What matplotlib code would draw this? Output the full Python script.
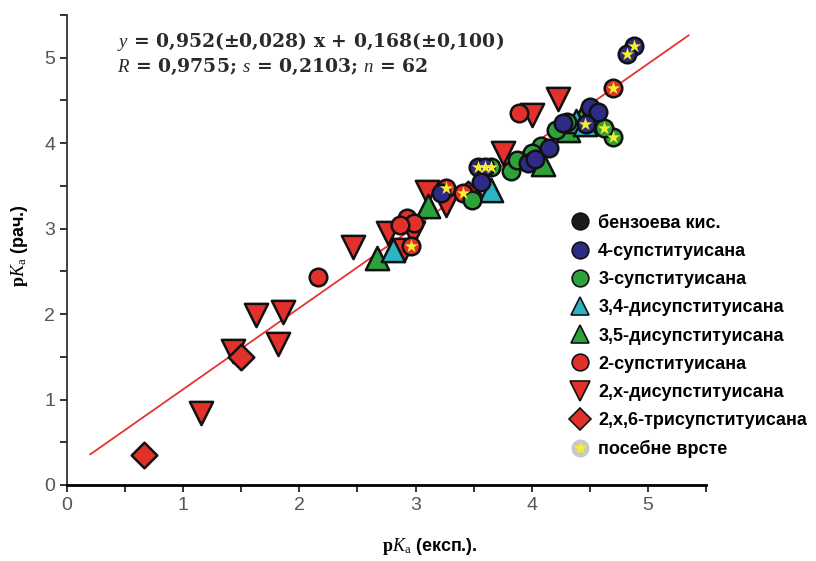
import numpy as np
import matplotlib
matplotlib.use("Agg")
import matplotlib.pyplot as plt
from matplotlib.lines import Line2D

plt.rcParams['mathtext.fontset'] = 'custom'
plt.rcParams['mathtext.rm'] = 'Liberation Serif'
plt.rcParams['mathtext.it'] = 'Liberation Serif:italic'
plt.rcParams['mathtext.bf'] = 'Liberation Serif:bold'

# podaci po grupama (pKa eksp., pKa rac.)
benz_x = [4.33]
benz_y = [4.22]

sub4_x = [4.88, 4.82, 4.50, 4.57, 4.47, 4.15, 3.97, 4.03, 3.54, 3.60, 3.56, 3.22, 4.27]
sub4_y = [5.14, 5.04, 4.42, 4.36, 4.22, 3.94, 3.77, 3.82, 3.72, 3.72, 3.54, 3.42, 4.24]

sub3_x = [4.70, 4.62, 4.21, 4.08, 3.82, 3.87, 3.65, 4.30, 3.49, 4.00]
sub3_y = [4.07, 4.18, 4.15, 3.97, 3.68, 3.80, 3.72, 4.25, 3.33, 3.88]

di34_x = [4.38, 4.46, 3.65, 2.81]
di34_y = [4.26, 4.22, 3.45, 2.75]

di35_x = [2.67, 3.11, 4.31, 4.10, 4.42]
di35_y = [2.66, 3.27, 4.15, 3.76, 4.28]

sub2_x = [2.16, 2.93, 2.99, 2.87, 2.96, 3.26, 3.89, 4.70, 3.41]
sub2_y = [2.43, 3.13, 3.07, 3.04, 2.80, 3.47, 4.35, 4.65, 3.42]

dix_x = [1.15, 1.43, 1.63, 1.86, 1.82, 2.46, 2.76, 2.98, 2.90, 3.10, 3.26, 3.75, 4.23, 4.00]
dix_y = [0.84, 1.57, 1.99, 2.02, 1.65, 2.78, 2.95, 2.95, 2.75, 3.43, 3.28, 3.89, 4.52, 4.33]

tri26_x = [0.66, 1.50, 3.45]
tri26_y = [0.35, 1.50, 3.40]

# posebne vrste (zvezdice)
spec_x = [4.88, 4.82, 4.70, 4.62, 4.46, 3.65, 3.54, 3.60, 2.96, 3.26, 4.70, 3.41]
spec_y = [5.14, 5.04, 4.07, 4.18, 4.22, 3.72, 3.72, 3.72, 2.80, 3.47, 4.65, 3.42]

slope, intercept = 0.952, 0.168
fit_x = np.array([0.2, 5.35])

fig = plt.figure(figsize=(8.16, 5.61), dpi=100)
ax = fig.add_axes([0.0821, 0.1355, 0.7831, 0.8378])

ax.plot(fit_x, slope * fit_x + intercept, color='#e8322a', lw=1.3, zorder=1)

ek = dict(edgecolors='#111111', linewidths=1.8)
ax.scatter(benz_x, benz_y, marker='o', s=160, c='#1a1a1a', zorder=2, **ek)
ax.scatter(dix_x, dix_y, marker='v', s=280, c='#e2302a', zorder=3, **ek)
ax.scatter(tri26_x, tri26_y, marker='D', s=170, c='#e2302a', zorder=3, **ek)
ax.scatter(di35_x, di35_y, marker='^', s=280, c='#2ea23a', zorder=3, **ek)
ax.scatter(di34_x, di34_y, marker='^', s=280, c='#2cb4c4', zorder=3, **ek)
ax.scatter(sub2_x, sub2_y, marker='o', s=160, c='#e2302a', zorder=3, **ek)
ax.scatter(sub3_x, sub3_y, marker='o', s=160, c='#2ea23a', zorder=3, **ek)
ax.scatter(sub4_x, sub4_y, marker='o', s=160, c='#2d2b86', zorder=3, **ek)
ax.scatter(spec_x, spec_y, marker='*', s=100, c='#f4ee2c', linewidths=0, zorder=4)

ax.set_xlim(0, 5.5)
ax.set_ylim(0, 5.5)
ax.set_xticks(np.arange(0, 6, 1))
ax.set_yticks(np.arange(0, 6, 1))
ax.set_xticks(np.arange(0.5, 5.6, 1), minor=True)
ax.set_yticks(np.arange(0.5, 5.6, 1), minor=True)
ax.tick_params(which='both', direction='out', length=5, width=1.3, color='#222222')
ax.tick_params(labelsize=14, colors='#222222', labelcolor='#555555')
for lab in ax.get_xticklabels() + ax.get_yticklabels():
    lab.set_family('Liberation Sans')
ax.spines['top'].set_visible(False)
ax.spines['right'].set_visible(False)
ax.spines['bottom'].set_linewidth(2)
ax.spines['left'].set_linewidth(1.3)
ax.spines['left'].set_color('#333333')

ax.set_xlabel(r'$\mathbf{p}\mathit{K}_{\mathrm{a}}$ (експ.).', fontsize=13, fontweight='bold',
              family='Liberation Sans')
ax.set_ylabel(r'$\mathbf{p}\mathit{K}_{\mathrm{a}}$ (рач.)', fontsize=13, fontweight='bold',
              family='Liberation Sans')
ax.xaxis.set_label_coords(0.568, -0.108)
ax.yaxis.set_label_coords(-0.058, 0.51)

fig.text(0.143, 0.916, r'$\mathit{y}$ = 0,952(±0,028) x + 0,168(±0,100)', fontsize=13.5,
         fontweight='bold', family='DejaVu Serif', color='#2a2a2a', va='baseline')
fig.text(0.143, 0.872, r'$\mathit{R}$ = 0,9755; $\mathit{s}$ = 0,2103; $\mathit{n}$ = 62', fontsize=13.5,
         fontweight='bold', family='DejaVu Serif', color='#2a2a2a', va='baseline')

labels = ['бензоева кис.', '4-супституисана', '3-супституисана', '3,4-дисупституисана',
          '3,5-дисупституисана', '2-супституисана', '2,х-дисупституисана',
          '2,х,6-трисупституисана', 'посебне врсте']
hk = dict(ls='none', markeredgecolor='#111111', markeredgewidth=1.2)
handles = [
    Line2D([], [], marker='o', ms=12, color='#1a1a1a', **hk),
    Line2D([], [], marker='o', ms=12, color='#2d2b86', **hk),
    Line2D([], [], marker='o', ms=12, color='#2ea23a', **hk),
    Line2D([], [], marker='^', ms=13, color='#2cb4c4', **hk),
    Line2D([], [], marker='^', ms=13, color='#2ea23a', **hk),
    Line2D([], [], marker='o', ms=12, color='#e2302a', **hk),
    Line2D([], [], marker='v', ms=14, color='#e2302a', **hk),
    Line2D([], [], marker='D', ms=11, color='#e2302a', **hk),
    (Line2D([], [], marker='o', ms=12, ls='none', color='#c9c9c9'),
     Line2D([], [], marker='*', ms=7, ls='none', color='#f4ee2c')),
]
fig.legend(handles, labels, loc='upper left', bbox_to_anchor=(0.69, 0.63), frameon=False,
           prop={'family': 'Liberation Sans', 'weight': 'bold', 'size': 13},
           labelspacing=0.62, handletextpad=0.45, handlelength=1.1, borderaxespad=0)

fig.savefig('out.png', dpi=100)
